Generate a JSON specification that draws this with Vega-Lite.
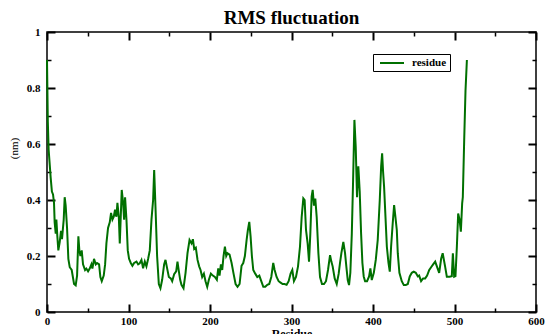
{
  "$schema": "https://vega.github.io/schema/vega-lite/v6.json",
  "width": 489,
  "height": 280,
  "autosize": {"type": "none"},
  "padding": {"left": 47, "top": 32, "right": 10, "bottom": 22},
  "background": "white",
  "title": {"text": "RMS fluctuation", "font": "Liberation Serif", "fontSize": 19, "fontWeight": "bold", "offset": 8, "dy": 10, "color": "black"},
  "data": {"values": [
    {"residue": 0, "rmsf": 0.9}, {"residue": 1, "rmsf": 0.68}, {"residue": 2, "rmsf": 0.58}, {"residue": 3, "rmsf": 0.54}, {"residue": 4.5, "rmsf": 0.48},
    {"residue": 6, "rmsf": 0.43}, {"residue": 7.4, "rmsf": 0.42}, {"residue": 8.6, "rmsf": 0.39}, {"residue": 9.4, "rmsf": 0.32}, {"residue": 10.7, "rmsf": 0.28},
    {"residue": 11.5, "rmsf": 0.33}, {"residue": 12.7, "rmsf": 0.27}, {"residue": 13.9, "rmsf": 0.22}, {"residue": 15.6, "rmsf": 0.25}, {"residue": 17.2, "rmsf": 0.29},
    {"residue": 18.4, "rmsf": 0.26}, {"residue": 20.5, "rmsf": 0.33}, {"residue": 21.7, "rmsf": 0.41}, {"residue": 22.9, "rmsf": 0.38}, {"residue": 24.6, "rmsf": 0.3},
    {"residue": 26.2, "rmsf": 0.19}, {"residue": 27.9, "rmsf": 0.16}, {"residue": 30.3, "rmsf": 0.15}, {"residue": 33.2, "rmsf": 0.1}, {"residue": 35.2, "rmsf": 0.095},
    {"residue": 36.9, "rmsf": 0.13}, {"residue": 38.5, "rmsf": 0.27}, {"residue": 39.7, "rmsf": 0.22}, {"residue": 41, "rmsf": 0.2}, {"residue": 42.6, "rmsf": 0.22},
    {"residue": 44.2, "rmsf": 0.17}, {"residue": 46.7, "rmsf": 0.15}, {"residue": 48.3, "rmsf": 0.155}, {"residue": 50.4, "rmsf": 0.145}, {"residue": 52.4, "rmsf": 0.155},
    {"residue": 54.5, "rmsf": 0.17}, {"residue": 55.7, "rmsf": 0.155}, {"residue": 57.7, "rmsf": 0.19}, {"residue": 59.8, "rmsf": 0.17}, {"residue": 61.4, "rmsf": 0.175},
    {"residue": 63.9, "rmsf": 0.17}, {"residue": 65.5, "rmsf": 0.125}, {"residue": 67.2, "rmsf": 0.11}, {"residue": 69.6, "rmsf": 0.13}, {"residue": 71.3, "rmsf": 0.17},
    {"residue": 72.9, "rmsf": 0.245}, {"residue": 74.9, "rmsf": 0.3}, {"residue": 77, "rmsf": 0.32}, {"residue": 78.6, "rmsf": 0.354}, {"residue": 80.3, "rmsf": 0.33},
    {"residue": 81.9, "rmsf": 0.34}, {"residue": 83.5, "rmsf": 0.365}, {"residue": 85.2, "rmsf": 0.34}, {"residue": 86.4, "rmsf": 0.39}, {"residue": 88.1, "rmsf": 0.34},
    {"residue": 89.3, "rmsf": 0.245}, {"residue": 90.5, "rmsf": 0.34}, {"residue": 91.7, "rmsf": 0.436}, {"residue": 93.4, "rmsf": 0.39}, {"residue": 94.6, "rmsf": 0.33},
    {"residue": 95.8, "rmsf": 0.41}, {"residue": 97.5, "rmsf": 0.33}, {"residue": 99.1, "rmsf": 0.22}, {"residue": 100.7, "rmsf": 0.19}, {"residue": 102.8, "rmsf": 0.175},
    {"residue": 104.8, "rmsf": 0.165}, {"residue": 106.9, "rmsf": 0.175}, {"residue": 109.8, "rmsf": 0.18}, {"residue": 111.8, "rmsf": 0.17}, {"residue": 113.8, "rmsf": 0.174},
    {"residue": 115.9, "rmsf": 0.186}, {"residue": 117.9, "rmsf": 0.156}, {"residue": 120, "rmsf": 0.18}, {"residue": 122, "rmsf": 0.163}, {"residue": 124.1, "rmsf": 0.19},
    {"residue": 126.1, "rmsf": 0.22}, {"residue": 128.2, "rmsf": 0.33}, {"residue": 130.2, "rmsf": 0.4}, {"residue": 131.5, "rmsf": 0.507}, {"residue": 133.1, "rmsf": 0.376},
    {"residue": 135.1, "rmsf": 0.2}, {"residue": 137.2, "rmsf": 0.1}, {"residue": 139.2, "rmsf": 0.085}, {"residue": 141.3, "rmsf": 0.115}, {"residue": 143.7, "rmsf": 0.17},
    {"residue": 145.4, "rmsf": 0.186}, {"residue": 147.4, "rmsf": 0.156}, {"residue": 149.5, "rmsf": 0.125}, {"residue": 151.9, "rmsf": 0.12}, {"residue": 153.6, "rmsf": 0.11},
    {"residue": 156, "rmsf": 0.135}, {"residue": 158.5, "rmsf": 0.145}, {"residue": 160.1, "rmsf": 0.18}, {"residue": 161.8, "rmsf": 0.145}, {"residue": 163.4, "rmsf": 0.115},
    {"residue": 165, "rmsf": 0.097}, {"residue": 167.5, "rmsf": 0.085}, {"residue": 170, "rmsf": 0.14}, {"residue": 172.4, "rmsf": 0.21}, {"residue": 174.9, "rmsf": 0.257},
    {"residue": 177.3, "rmsf": 0.245}, {"residue": 179, "rmsf": 0.26}, {"residue": 180.6, "rmsf": 0.225}, {"residue": 182.6, "rmsf": 0.23}, {"residue": 184.7, "rmsf": 0.186},
    {"residue": 186.7, "rmsf": 0.163}, {"residue": 188.4, "rmsf": 0.15}, {"residue": 190.4, "rmsf": 0.125}, {"residue": 192.5, "rmsf": 0.137}, {"residue": 194.5, "rmsf": 0.11},
    {"residue": 196.6, "rmsf": 0.09}, {"residue": 198.6, "rmsf": 0.115}, {"residue": 201.1, "rmsf": 0.137}, {"residue": 203.5, "rmsf": 0.13}, {"residue": 206, "rmsf": 0.125},
    {"residue": 208.4, "rmsf": 0.115}, {"residue": 210.1, "rmsf": 0.156}, {"residue": 211.7, "rmsf": 0.13}, {"residue": 213.4, "rmsf": 0.17}, {"residue": 215, "rmsf": 0.15},
    {"residue": 216.6, "rmsf": 0.2}, {"residue": 218.3, "rmsf": 0.233}, {"residue": 219.9, "rmsf": 0.2}, {"residue": 221.5, "rmsf": 0.21}, {"residue": 224, "rmsf": 0.205},
    {"residue": 226.5, "rmsf": 0.175}, {"residue": 228.9, "rmsf": 0.137}, {"residue": 231.4, "rmsf": 0.1}, {"residue": 233.8, "rmsf": 0.09}, {"residue": 236.3, "rmsf": 0.1},
    {"residue": 238.7, "rmsf": 0.165}, {"residue": 240.8, "rmsf": 0.175}, {"residue": 242.8, "rmsf": 0.2}, {"residue": 244.9, "rmsf": 0.257}, {"residue": 246.5, "rmsf": 0.293},
    {"residue": 248.2, "rmsf": 0.322}, {"residue": 249.8, "rmsf": 0.27}, {"residue": 251.4, "rmsf": 0.2}, {"residue": 253.1, "rmsf": 0.15}, {"residue": 255.5, "rmsf": 0.137},
    {"residue": 258, "rmsf": 0.125}, {"residue": 260.5, "rmsf": 0.13}, {"residue": 262.9, "rmsf": 0.11}, {"residue": 265.4, "rmsf": 0.09}, {"residue": 267.8, "rmsf": 0.09},
    {"residue": 270.3, "rmsf": 0.097}, {"residue": 272.7, "rmsf": 0.1}, {"residue": 275.2, "rmsf": 0.125}, {"residue": 277.6, "rmsf": 0.175}, {"residue": 279.3, "rmsf": 0.15},
    {"residue": 281.7, "rmsf": 0.125}, {"residue": 284.2, "rmsf": 0.11}, {"residue": 286.6, "rmsf": 0.105}, {"residue": 289.1, "rmsf": 0.1}, {"residue": 291.6, "rmsf": 0.1},
    {"residue": 294, "rmsf": 0.097}, {"residue": 296.5, "rmsf": 0.11}, {"residue": 298.9, "rmsf": 0.137}, {"residue": 301, "rmsf": 0.15}, {"residue": 303, "rmsf": 0.11},
    {"residue": 305.5, "rmsf": 0.125}, {"residue": 308, "rmsf": 0.163}, {"residue": 310.4, "rmsf": 0.233}, {"residue": 312.5, "rmsf": 0.34}, {"residue": 314.5, "rmsf": 0.406},
    {"residue": 316.1, "rmsf": 0.4}, {"residue": 317.8, "rmsf": 0.293}, {"residue": 319.8, "rmsf": 0.245}, {"residue": 321.5, "rmsf": 0.18}, {"residue": 323.1, "rmsf": 0.28},
    {"residue": 324.7, "rmsf": 0.412}, {"residue": 326, "rmsf": 0.436}, {"residue": 327.6, "rmsf": 0.38}, {"residue": 329.2, "rmsf": 0.405}, {"residue": 330.9, "rmsf": 0.34},
    {"residue": 333, "rmsf": 0.21}, {"residue": 335, "rmsf": 0.125}, {"residue": 337.4, "rmsf": 0.1}, {"residue": 339.9, "rmsf": 0.1}, {"residue": 342.3, "rmsf": 0.11},
    {"residue": 344.8, "rmsf": 0.15}, {"residue": 347.3, "rmsf": 0.203}, {"residue": 348.9, "rmsf": 0.18}, {"residue": 350.5, "rmsf": 0.163}, {"residue": 353, "rmsf": 0.12},
    {"residue": 355.5, "rmsf": 0.1}, {"residue": 357.9, "rmsf": 0.137}, {"residue": 359.5, "rmsf": 0.175}, {"residue": 361.2, "rmsf": 0.21}, {"residue": 363.6, "rmsf": 0.25},
    {"residue": 365.7, "rmsf": 0.21}, {"residue": 367.3, "rmsf": 0.162}, {"residue": 369, "rmsf": 0.114}, {"residue": 370.6, "rmsf": 0.096}, {"residue": 372.2, "rmsf": 0.14},
    {"residue": 374, "rmsf": 0.28}, {"residue": 375.5, "rmsf": 0.46}, {"residue": 377.2, "rmsf": 0.686}, {"residue": 378.8, "rmsf": 0.59}, {"residue": 380.4, "rmsf": 0.41},
    {"residue": 382, "rmsf": 0.52}, {"residue": 383.7, "rmsf": 0.43}, {"residue": 385.4, "rmsf": 0.28}, {"residue": 387, "rmsf": 0.175}, {"residue": 388.6, "rmsf": 0.127},
    {"residue": 390.3, "rmsf": 0.11}, {"residue": 392.7, "rmsf": 0.11}, {"residue": 395.2, "rmsf": 0.127}, {"residue": 396.8, "rmsf": 0.156}, {"residue": 398.5, "rmsf": 0.114},
    {"residue": 401, "rmsf": 0.14}, {"residue": 403.4, "rmsf": 0.186}, {"residue": 405.8, "rmsf": 0.257}, {"residue": 408.3, "rmsf": 0.4}, {"residue": 410, "rmsf": 0.52},
    {"residue": 411.2, "rmsf": 0.567}, {"residue": 412.4, "rmsf": 0.5}, {"residue": 413.6, "rmsf": 0.448}, {"residue": 415.3, "rmsf": 0.34}, {"residue": 417, "rmsf": 0.233},
    {"residue": 419, "rmsf": 0.175}, {"residue": 420.6, "rmsf": 0.144}, {"residue": 422.2, "rmsf": 0.233}, {"residue": 424.2, "rmsf": 0.317}, {"residue": 425.9, "rmsf": 0.382},
    {"residue": 427.5, "rmsf": 0.34}, {"residue": 429.2, "rmsf": 0.293}, {"residue": 430.4, "rmsf": 0.21}, {"residue": 432.4, "rmsf": 0.14}, {"residue": 435.3, "rmsf": 0.11},
    {"residue": 437.8, "rmsf": 0.096}, {"residue": 440.2, "rmsf": 0.096}, {"residue": 442.7, "rmsf": 0.1}, {"residue": 445.1, "rmsf": 0.127}, {"residue": 447.6, "rmsf": 0.14},
    {"residue": 450, "rmsf": 0.144}, {"residue": 452.5, "rmsf": 0.14}, {"residue": 455, "rmsf": 0.127}, {"residue": 456.6, "rmsf": 0.13}, {"residue": 459, "rmsf": 0.11},
    {"residue": 461.5, "rmsf": 0.12}, {"residue": 464, "rmsf": 0.12}, {"residue": 466.4, "rmsf": 0.13}, {"residue": 469, "rmsf": 0.15}, {"residue": 471.3, "rmsf": 0.16},
    {"residue": 473.8, "rmsf": 0.17}, {"residue": 476.3, "rmsf": 0.18}, {"residue": 478.7, "rmsf": 0.16}, {"residue": 481.2, "rmsf": 0.14}, {"residue": 483.6, "rmsf": 0.19},
    {"residue": 485.5, "rmsf": 0.21}, {"residue": 488.5, "rmsf": 0.162}, {"residue": 490.6, "rmsf": 0.126}, {"residue": 493.9, "rmsf": 0.126}, {"residue": 496.7, "rmsf": 0.128},
    {"residue": 498, "rmsf": 0.21}, {"residue": 499.6, "rmsf": 0.126}, {"residue": 501.2, "rmsf": 0.128}, {"residue": 502.9, "rmsf": 0.233}, {"residue": 504.5, "rmsf": 0.352},
    {"residue": 506.2, "rmsf": 0.33}, {"residue": 507.8, "rmsf": 0.287}, {"residue": 509.4, "rmsf": 0.388}, {"residue": 510.2, "rmsf": 0.41}, {"residue": 511.9, "rmsf": 0.614},
    {"residue": 513.5, "rmsf": 0.79}, {"residue": 515.2, "rmsf": 0.9}
  ]},
  "layer": [
    {
      "mark": {"type": "line", "strokeWidth": 2},
      "encoding": {
        "x": {"field": "residue", "type": "quantitative", "scale": {"domain": [0, 600], "nice": false},
          "axis": {"orient": "bottom", "values": [0, 100, 200, 300, 400, 500, 600], "offset": -8, "ticks": true, "tickSize": 8, "tickColor": "black", "tickWidth": 2,
            "labelPadding": 3, "labelFlush": false, "format": "d",
            "title": "Residue", "titleFont": "Liberation Serif", "titleFontSize": 12, "titleFontWeight": "bold",
            "titleBaseline": "top", "titleY": 24, "titleColor": "black"}},
        "y": {"field": "rmsf", "type": "quantitative", "scale": {"domain": [0, 1], "nice": false},
          "axis": {"orient": "left", "values": [0, 0.2, 0.4, 0.6, 0.8, 1], "offset": -8, "ticks": true, "tickSize": 8, "tickColor": "black", "tickWidth": 2,
            "labelPadding": 7, "format": "~g",
            "title": "(nm)", "titleFont": "Liberation Serif", "titleFontSize": 11, "titleFontWeight": "normal",
            "titleAngle": 270, "titleAlign": "center", "titleBaseline": "middle", "titleX": -41, "titleY": 116, "titleColor": "black"}},
        "color": {"datum": "residue", "type": "nominal", "scale": {"range": ["#007000"]},
          "legend": {"title": null, "orient": "none", "legendX": 326, "legendY": 22, "strokeColor": "black", "fillColor": "white",
            "padding": 3, "symbolType": "M-2.4,0H2.4", "symbolSize": 100, "symbolStrokeWidth": 2, "symbolOffset": 10,
            "labelFont": "Liberation Serif", "labelFontWeight": "bold", "labelFontSize": 11, "labelColor": "black", "labelOffset": 14}}
      }
    },
    {
      "mark": {"type": "line", "opacity": 0},
      "encoding": {
        "x": {"field": "residue", "type": "quantitative", "scale": {"domain": [0, 600], "nice": false},
          "axis": {"orient": "bottom", "values": [50, 150, 250, 350, 450, 550], "offset": -4, "ticks": true, "tickSize": 4, "tickColor": "black", "tickWidth": 1.5, "labels": false, "title": null}},
        "y": {"field": "rmsf", "type": "quantitative", "scale": {"domain": [0, 1], "nice": false},
          "axis": {"orient": "left", "values": [0.1, 0.3, 0.5, 0.7, 0.9], "offset": -4, "ticks": true, "tickSize": 4, "tickColor": "black", "tickWidth": 1.5, "labels": false, "title": null}}
      }
    },
    {
      "mark": {"type": "line", "opacity": 0},
      "encoding": {
        "x": {"field": "residue", "type": "quantitative", "scale": {"domain": [0, 600], "nice": false},
          "axis": {"orient": "top", "values": [0, 100, 200, 300, 400, 500, 600], "offset": -8, "ticks": true, "tickSize": 8, "tickColor": "black", "tickWidth": 2, "labels": false, "title": null}},
        "y": {"field": "rmsf", "type": "quantitative", "scale": {"domain": [0, 1], "nice": false},
          "axis": {"orient": "right", "values": [0, 0.2, 0.4, 0.6, 0.8, 1], "offset": -8, "ticks": true, "tickSize": 8, "tickColor": "black", "tickWidth": 2, "labels": false, "title": null}}
      }
    },
    {
      "mark": {"type": "line", "opacity": 0},
      "encoding": {
        "x": {"field": "residue", "type": "quantitative", "scale": {"domain": [0, 600], "nice": false},
          "axis": {"orient": "top", "values": [50, 150, 250, 350, 450, 550], "offset": -4, "ticks": true, "tickSize": 4, "tickColor": "black", "tickWidth": 1.5, "labels": false, "title": null}},
        "y": {"field": "rmsf", "type": "quantitative", "scale": {"domain": [0, 1], "nice": false},
          "axis": {"orient": "right", "values": [0.1, 0.3, 0.5, 0.7, 0.9], "offset": -4, "ticks": true, "tickSize": 4, "tickColor": "black", "tickWidth": 1.5, "labels": false, "title": null}}
      }
    }
  ],
  "resolve": {"axis": {"x": "independent", "y": "independent"}},
  "config": {
    "view": {"stroke": "black", "strokeWidth": 1.5},
    "axis": {"domain": false, "grid": false,
      "labelFont": "Liberation Serif", "labelFontWeight": "bold", "labelFontSize": 11, "labelColor": "black"}
  }
}
